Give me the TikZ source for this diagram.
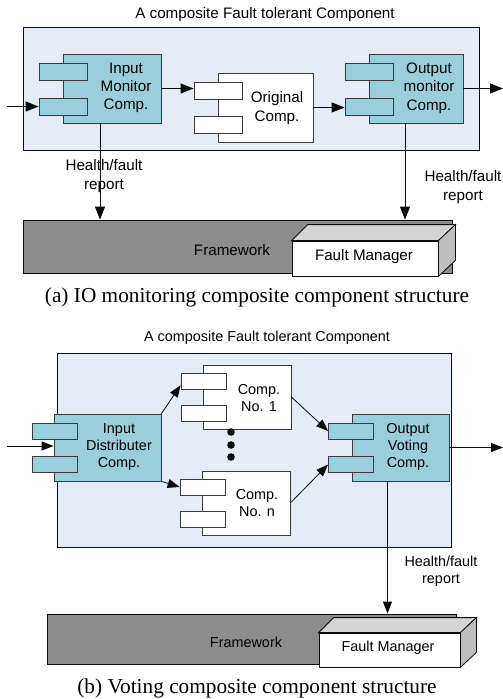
\documentclass[tikz,border=0pt]{standalone}
\usepackage{fontspec}
\setmainfont{Liberation Serif}
\newfontfamily\arialfont{Liberation Sans}
\usetikzlibrary{calc,arrows.meta}
\definecolor{cpanel}{HTML}{E5ECF6}
\definecolor{cteal}{HTML}{99CFDB}
\definecolor{cframe}{HTML}{8C8C8C}
\definecolor{ctop}{HTML}{D4D4D4}
\definecolor{cside}{HTML}{BEBEBE}
\definecolor{cink}{HTML}{0B0B0B}
\definecolor{cline}{HTML}{3A3A3A}

\tikzset{
  panel/.style={draw=cink, fill=cpanel, line width=0.9pt, inner sep=0pt},
  body/.style={draw=cline, fill=cteal, line width=0.8pt, inner sep=0pt},
  wbody/.style={body, fill=white},
  porta/.style={body, minimum width=48pt, minimum height=17pt},
  wporta/.style={porta, fill=white},
  portb/.style={body, minimum width=45pt, minimum height=16pt},
  wportb/.style={portb, fill=white},
  fw/.style={draw=cink, fill=cframe, line width=0.8pt, inner sep=0pt},
  fm/.style={draw=cink, fill=white, line width=0.8pt, inner sep=0pt},
  txta/.style={font={\arialfont\fontsize{15.2}{18.3}\selectfont}, align=center, inner sep=0pt},
  txtb/.style={font={\arialfont\fontsize{14.4}{16.8}\selectfont}, align=center, inner sep=0pt},
  captxt/.style={font={\fontsize{21.3}{24}\selectfont}, inner sep=0pt},
  arr/.style={draw=cink, line width=0.8pt, -{Triangle[length=13pt,width=10pt]}},
  arrb/.style={arr, -{Triangle[length=12pt,width=9pt]}}
}

\begin{document}
\begin{tikzpicture}[x=1pt, y=-1pt]
\useasboundingbox (0,0) rectangle (503,699);
%% ------------------------------------------------------------------ (a)
\node[txta] (titleA) at (265,15) {A composite Fault tolerant Component};
\node[panel, minimum width=456pt, minimum height=123pt] (panelA) at (251,88.5) {};
% input monitor
\node[body, minimum width=98pt, minimum height=69pt] (inA) at (112,88.5) {};
\node[porta] (inAp1) at (63,71.5) {};
\node[porta] (inAp2) at (63,106.5) {};
\node[txta] (inAt) at (126,88) {Input\\Monitor\\Comp.};
% original component
\node[wbody, minimum width=95pt, minimum height=69pt] (orig) at (265.5,107.5) {};
\node[wporta] (origp1) at (218,90.5) {};
\node[wporta] (origp2) at (218,124.5) {};
\node[txta] (origt) at (277,108) {Original\\Comp.};
% output monitor
\node[body, minimum width=94pt, minimum height=69pt] (outA) at (416,88.5) {};
\node[porta] (outAp1) at (369,71.5) {};
\node[porta] (outAp2) at (369,106.5) {};
\node[txta] (outAt) at (429,88) {Output\\monitor\\Comp.};
% framework and fault manager
\node[fw, minimum width=429pt, minimum height=53pt] (fwA) at (237.5,246.5) {};
\node[txta] (fwAt) at (232,250) {Framework};
\node[fm, minimum width=146pt, minimum height=35pt] (fmA) at (365,258.5) {};
\filldraw[fill=ctop, draw=cink, line width=0.8pt]
  (fmA.north west) -- ++(16,-16) -- ($(fmA.north east)+(17,-16)$) -- (fmA.north east) -- cycle;
\filldraw[fill=cside, draw=cink, line width=0.8pt]
  (fmA.north east) -- ++(17,-16) -- ($(fmA.south east)+(17,-16)$) -- (fmA.south east) -- cycle;
\node[txta] (fmAt) at (364,257) {Fault Manager};
% flows
\coordinate (inAsrc) at (7,106.5);
\coordinate (outAdst) at (503,88.5);
\draw[arr] (inAsrc) -- (inAp2.west);
\draw[arr] (inA.east) -- (inA.east -| origp1.west);
\draw[arr] (orig.east) -- (orig.east -| outAp2.west);
\draw[arr] (outA.east) -- (outAdst);
% health reports
\coordinate (hA1) at ([xshift=-12pt]inA.south);
\coordinate (hA2) at ([xshift=-11pt]outA.south);
\draw[arr] (hA1) -- (hA1 |- fwA.north);
\draw[arr] (hA2) -- (hA2 |- fwA.north);
\node[txta] (hAt1) at (104,176) {Health/fault\\report};
\node[txta] (hAt2) at (463,187) {Health/fault\\report};
\node[captxt] (capA) at (257,297) {(a) IO monitoring composite component structure};
%% ------------------------------------------------------------------ (b)
\node[txtb] (titleB) at (267,338) {A composite Fault tolerant Component};
\node[panel, minimum width=394pt, minimum height=194pt] (panelB) at (254,450) {};
% input distributer
\node[body, minimum width=107pt, minimum height=67pt] (inB) at (107.5,447.5) {};
\node[portb] (inBp1) at (54.5,431) {};
\node[portb] (inBp2) at (54.5,464.5) {};
\node[txtb] (inBt) at (119,447) {Input\\Distributer\\Comp.};
% replicas
\node[wbody, minimum width=88pt, minimum height=64pt] (c1) at (247,397) {};
\node[wportb] (c1p1) at (203.5,381) {};
\node[wportb] (c1p2) at (203.5,413.5) {};
\node[txtb] (c1t) at (259,398) {Comp.\\No. 1};
\node[wbody, minimum width=88pt, minimum height=64pt] (cn) at (246,503) {};
\node[wportb] (cnp1) at (202.5,487) {};
\node[wportb] (cnp2) at (202.5,519.5) {};
\node[txtb] (cnt) at (257,503) {Comp.\\No. n};
\foreach \y in {432,445,457}
  \fill[cink] (231,\y) circle (3.8pt);
% output voting
\node[body, minimum width=97pt, minimum height=67pt] (outB) at (400.5,447.5) {};
\node[portb] (outBp1) at (351,431) {};
\node[portb] (outBp2) at (351,464.5) {};
\node[txtb] (outBt) at (408,447) {Output\\Voting\\Comp.};
% framework and fault manager
\node[fw, minimum width=409pt, minimum height=50pt] (fwB) at (251.5,639) {};
\node[txtb] (fwBt) at (246,642) {Framework};
\node[fm, minimum width=141pt, minimum height=34pt] (fmB) at (389.5,650) {};
\filldraw[fill=ctop, draw=cink, line width=0.8pt]
  (fmB.north west) -- ++(15,-15) -- ($(fmB.north east)+(16,-15)$) -- (fmB.north east) -- cycle;
\filldraw[fill=cside, draw=cink, line width=0.8pt]
  (fmB.north east) -- ++(16,-15) -- ($(fmB.south east)+(16,-15)$) -- (fmB.south east) -- cycle;
\node[txtb] (fmBt) at (388,648) {Fault Manager};
% flows
\coordinate (inBsrc) at (7,446);
\coordinate (outBdst) at (503,447.5);
\draw[arrb] (inBsrc) -- (inBsrc -| inB.west);
\draw[arrb] (inB.north east) -- ($(c1p1.west)!0.5!(c1p1.south west)$);
\draw[arrb] (inB.south east) -- (cnp1.west);
\draw[arrb] (c1.east) -- (outBp1.west);
\draw[arrb] (cn.east) -- (outBp2.west);
\draw[arrb] (outB.east) -- (outBdst);
% health report
\coordinate (hB) at ([xshift=-13pt]outB.south);
\draw[arrb] (hB) -- (hB |- fwB.north);
\node[txtb] (hBt) at (441,571) {Health/fault\\report};
\node[captxt] (capB) at (257,688) {(b) Voting composite component structure};
\end{tikzpicture}
\end{document}
